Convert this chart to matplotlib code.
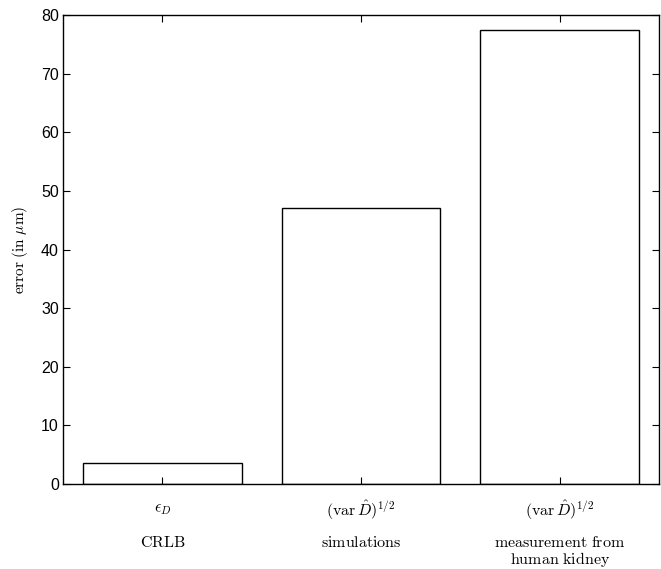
import numpy as np
import matplotlib
matplotlib.use('Agg')
import matplotlib.pyplot as plt

plt.rcParams['mathtext.fontset'] = 'cm'

# bar values
positions = [1, 2, 3]
errors = [3.5, 47.0, 77.5]
symbols = [r'$\epsilon_D$', r'$(\mathrm{var}\,\hat{D})^{1/2}$', r'$(\mathrm{var}\,\hat{D})^{1/2}$']
descriptions = [[r'$\mathrm{CRLB}$'],
                [r'$\mathrm{simulations}$'],
                [r'$\mathrm{measurement\ from}$', r'$\mathrm{human\ kidney}$']]
yticks = [0, 10, 20, 30, 40, 50, 60, 70, 80]

fig = plt.figure(figsize=(6.61, 5.69), dpi=100)
ax = fig.add_axes([0.0953, 0.1494, 0.9017, 0.8242])

ax.bar(positions, errors, width=0.8, facecolor='white', edgecolor='black', lw=1.0)

ax.set_xlim(0.5, 3.5)
ax.set_ylim(0, 80)
ax.set_xticks(positions)
ax.set_xticklabels([])
ax.set_yticks(yticks)
ax.tick_params(direction='in', top=True, right=True, length=5, width=0.8)
ax.tick_params(axis='y', labelsize=11.5, pad=3)
for lab in ax.get_yticklabels():
    lab.set_family('Liberation Sans')

for sp in ax.spines.values():
    sp.set_linewidth(1.0)

# category labels below the axis
trans = ax.get_xaxis_transform()
line_y = [-0.124, -0.161]
for x, s, d in zip(positions, symbols, descriptions):
    ax.text(x, -0.055, s, transform=trans, ha='center', va='center', fontsize=11.5)
    for yy, line in zip(line_y, d):
        ax.text(x, yy, line, transform=trans, ha='center', va='center', fontsize=11.5)

ax.set_ylabel(r'$\mathrm{error\ (in\ }\mu\mathrm{m)}$', fontsize=11, labelpad=8)

fig.savefig('out.png', dpi=100)
